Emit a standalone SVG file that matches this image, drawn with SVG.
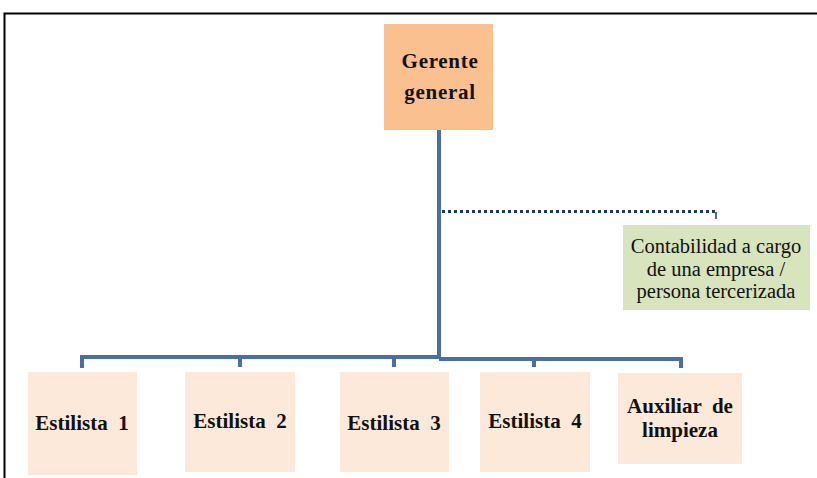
<svg xmlns="http://www.w3.org/2000/svg" width="817" height="478" viewBox="0 0 817 478">
  <style>
    .frame { fill: none; stroke: #000; stroke-width: 2; }
    .boss { fill: #FAC090; }
    .staff { fill: #FDE9D9; }
    .ext { fill: #D7E4BD; }
    .link { fill: none; stroke: #4A6FA5; stroke-width: 4; }
    .dots { fill: none; stroke: #1F3864; stroke-width: 3; stroke-dasharray: 3 3; }
    .lbl { font-family: "Liberation Serif", "Times New Roman", serif; font-size: 21px; font-weight: bold; fill: #111; text-anchor: middle; }
    .note { font-family: "Liberation Serif", "Times New Roman", serif; font-size: 20.5px; fill: #111; text-anchor: middle; }
  </style>

  <!-- page frame -->
  <path class="frame" d="M4.5,478 V13.5 H817"/>

  <!-- connectors -->
  <g id="connectors">
    <path class="link" d="M439,130 V358"/>
    <path class="link" d="M82,368 V357 H439"/>
    <path class="link" d="M240,357 V367"/>
    <path class="link" d="M394,357 V367"/>
    <path class="link" d="M439,359 H681 V368"/>
    <path class="link" d="M534,359 V367"/>
    <path class="dots" d="M442,211.5 H718"/>
    <path fill="none" stroke="#1F3864" stroke-width="1.5" d="M716,212 V219"/>
  </g>

  <g id="gerente">
    <rect class="boss" x="384" y="24" width="109" height="106"/>
    <text class="lbl" x="440" y="68" letter-spacing="0.7">Gerente</text>
    <text class="lbl" x="440" y="99" letter-spacing="0.7">general</text>
  </g>

  <g id="contabilidad">
    <rect class="ext" x="623" y="225" width="187" height="85"/>
    <text class="note" x="716" y="253">Contabilidad a cargo</text>
    <text class="note" x="716" y="276">de una empresa /</text>
    <text class="note" x="716" y="298">persona tercerizada</text>
  </g>

  <g id="estilista1">
    <rect class="staff" x="28" y="372" width="109" height="103"/>
    <text class="lbl" x="82" y="430" xml:space="preserve">Estilista  1</text>
  </g>

  <g id="estilista2">
    <rect class="staff" x="185" y="372" width="110" height="100"/>
    <text class="lbl" x="240" y="428" xml:space="preserve">Estilista  2</text>
  </g>

  <g id="estilista3">
    <rect class="staff" x="340" y="372" width="109" height="100"/>
    <text class="lbl" x="394" y="430" xml:space="preserve">Estilista  3</text>
  </g>

  <g id="estilista4">
    <rect class="staff" x="480" y="372" width="110" height="100"/>
    <text class="lbl" x="535" y="428" xml:space="preserve">Estilista  4</text>
  </g>

  <g id="auxiliar">
    <rect class="staff" x="618" y="373" width="124" height="91"/>
    <text class="lbl" x="680" y="413" xml:space="preserve">Auxiliar  de</text>
    <text class="lbl" x="680" y="437">limpieza</text>
  </g>
</svg>
